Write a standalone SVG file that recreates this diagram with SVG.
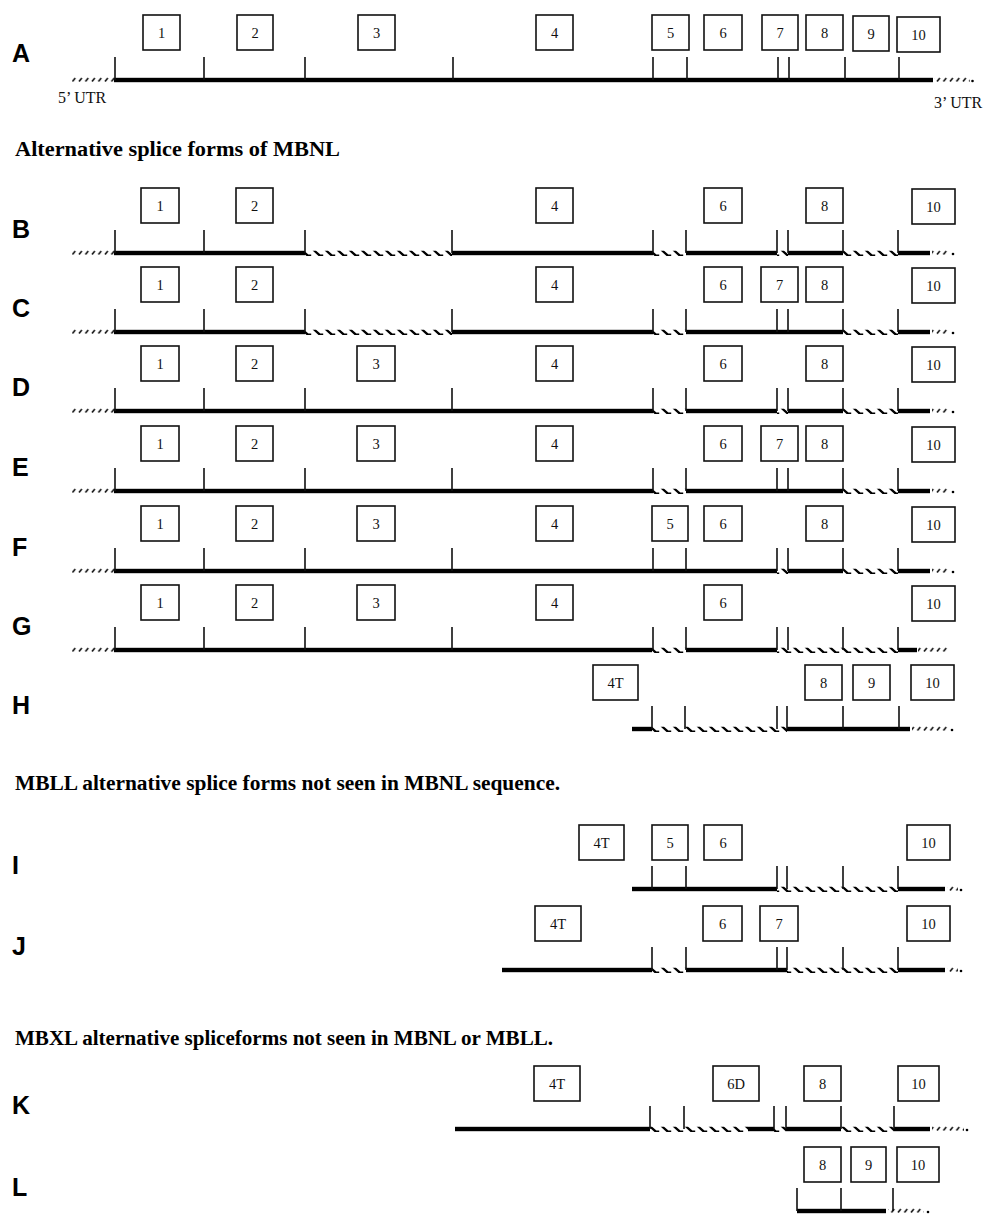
<svg xmlns="http://www.w3.org/2000/svg" width="993" height="1214" viewBox="0 0 993 1214">
<style>
.box{fill:#fff;stroke:#111;stroke-width:1.6}
.num{font-family:"Liberation Serif",serif;font-size:14.5px;text-anchor:middle;fill:#111}
.lbl{font-family:"Liberation Sans",Arial,sans-serif;font-weight:bold;font-size:25px;fill:#000}
.hd{font-family:"Liberation Serif",serif;font-weight:bold;font-size:20px;fill:#000}
.utrt{font-family:"Liberation Serif",serif;font-size:16px;fill:#111}
.tick{stroke:#111;stroke-width:1.6;fill:none}
.s{fill:#000}
.h{fill:url(#hatch)}
.u{fill:url(#utr)}
</style>
<defs>
<pattern id="hatch" patternUnits="userSpaceOnUse" x="0" y="-5" width="12" height="10">
<polygon points="0.5,2.6 3.8,2.6 8.4,6.6 11.2,6.6 11.2,8.2 6.8,8.2" fill="#000"/>
</pattern>
<pattern id="utr" patternUnits="userSpaceOnUse" x="0" y="-5" width="6.5" height="10">
<line x1="1" y1="6.6" x2="3.8" y2="3" stroke="#111" stroke-width="1.6"/>
</pattern>
</defs>

<!-- Row A -->
<g id="row-A" transform="translate(0,80)">
<text class="lbl" x="12" y="-18">A</text>
<g id="A-track">
<rect class="u" x="72" y="-3" width="42" height="5"/>
<rect class="s" x="114" y="-2.2" width="819" height="4.4"/>
<rect class="u" x="934" y="-3" width="36" height="5"/>
<circle cx="972.5" cy="1" r="1.3"/>
<path class="tick" d="M115 -23V0M204 -23V0M305 -23V0M453 -23V0M653 -23V0M687 -23V0M778 -23V0M789 -23V0M845 -23V0M899 -23V0"/>
</g>
<text class="utrt" x="58" y="23">5’ UTR</text>
<text class="utrt" x="934" y="28">3’ UTR</text>
<g id="A-e1"><rect class="box" x="143" y="-65" width="37" height="35"/><text class="num" x="161.5" y="-42">1</text></g>
<g id="A-e2"><rect class="box" x="237" y="-65" width="36" height="35"/><text class="num" x="255" y="-42">2</text></g>
<g id="A-e3"><rect class="box" x="358" y="-65" width="37" height="35"/><text class="num" x="376.5" y="-42">3</text></g>
<g id="A-e4"><rect class="box" x="536" y="-65" width="37" height="35"/><text class="num" x="554.5" y="-42">4</text></g>
<g id="A-e5"><rect class="box" x="652" y="-65" width="37" height="35"/><text class="num" x="670.5" y="-42">5</text></g>
<g id="A-e6"><rect class="box" x="704" y="-65" width="38" height="35"/><text class="num" x="723" y="-42">6</text></g>
<g id="A-e7"><rect class="box" x="762" y="-65" width="36" height="35"/><text class="num" x="780" y="-42">7</text></g>
<g id="A-e8"><rect class="box" x="806" y="-65" width="37" height="35"/><text class="num" x="824.5" y="-42">8</text></g>
<g id="A-e9"><rect class="box" x="853" y="-64" width="36" height="35"/><text class="num" x="871" y="-41">9</text></g>
<g id="A-e10"><rect class="box" x="897" y="-63" width="43" height="35"/><text class="num" x="918.5" y="-40">10</text></g>
</g>

<text class="hd" x="15" y="156" textLength="325" lengthAdjust="spacingAndGlyphs">Alternative splice forms of MBNL</text>

<!-- Row B -->
<g id="row-B" transform="translate(0,253)">
<text class="lbl" x="12" y="-15">B</text>
<g id="B-track">
<rect class="u" x="72" y="-3" width="42" height="5"/>
<rect class="s" x="114" y="-2.2" width="191" height="4.4"/>
<rect class="h" x="305" y="-2.5" width="147" height="5.5"/>
<rect class="s" x="452" y="-2.2" width="201" height="4.4"/>
<rect class="h" x="653" y="-2.5" width="33" height="5.5"/>
<rect class="s" x="686" y="-2.2" width="91" height="4.4"/>
<rect class="h" x="777" y="-2.5" width="11" height="5.5"/>
<rect class="s" x="788" y="-2.2" width="55" height="4.4"/>
<rect class="h" x="843" y="-2.5" width="55" height="5.5"/>
<rect class="s" x="898" y="-2.2" width="32" height="4.4"/>
<rect class="u" x="932" y="-3" width="17" height="5"/>
<circle cx="953" cy="1" r="1.3"/>
<path class="tick" d="M115 -23V0M204 -23V0M305 -23V0M452 -23V0M653 -23V0M686 -23V0M777 -23V0M788 -23V0M843 -23V0M898 -23V0"/>
</g>
<g id="B-e1"><rect class="box" x="141" y="-65" width="38" height="35"/><text class="num" x="160" y="-42">1</text></g>
<g id="B-e2"><rect class="box" x="236" y="-65" width="37" height="35"/><text class="num" x="254.5" y="-42">2</text></g>
<g id="B-e4"><rect class="box" x="536" y="-65" width="37" height="35"/><text class="num" x="554.5" y="-42">4</text></g>
<g id="B-e6"><rect class="box" x="704" y="-65" width="38" height="35"/><text class="num" x="723" y="-42">6</text></g>
<g id="B-e8"><rect class="box" x="806" y="-65" width="37" height="35"/><text class="num" x="824.5" y="-42">8</text></g>
<g id="B-e10"><rect class="box" x="912" y="-64" width="43" height="35"/><text class="num" x="933.5" y="-41">10</text></g>
</g>

<!-- Row C -->
<g id="row-C" transform="translate(0,332)">
<text class="lbl" x="12" y="-15">C</text>
<g id="C-track">
<rect class="u" x="72" y="-3" width="42" height="5"/>
<rect class="s" x="114" y="-2.2" width="191" height="4.4"/>
<rect class="h" x="305" y="-2.5" width="147" height="5.5"/>
<rect class="s" x="452" y="-2.2" width="201" height="4.4"/>
<rect class="h" x="653" y="-2.5" width="33" height="5.5"/>
<rect class="s" x="686" y="-2.2" width="157" height="4.4"/>
<rect class="h" x="843" y="-2.5" width="55" height="5.5"/>
<rect class="s" x="898" y="-2.2" width="32" height="4.4"/>
<rect class="u" x="932" y="-3" width="17" height="5"/>
<circle cx="953" cy="1" r="1.3"/>
<path class="tick" d="M115 -23V0M204 -23V0M305 -23V0M452 -23V0M653 -23V0M686 -23V0M777 -23V0M788 -23V0M843 -23V0M898 -23V0"/>
</g>
<g id="C-e1"><rect class="box" x="141" y="-65" width="38" height="35"/><text class="num" x="160" y="-42">1</text></g>
<g id="C-e2"><rect class="box" x="236" y="-65" width="37" height="35"/><text class="num" x="254.5" y="-42">2</text></g>
<g id="C-e4"><rect class="box" x="536" y="-65" width="37" height="35"/><text class="num" x="554.5" y="-42">4</text></g>
<g id="C-e6"><rect class="box" x="704" y="-65" width="38" height="35"/><text class="num" x="723" y="-42">6</text></g>
<g id="C-e7"><rect class="box" x="761" y="-65" width="37" height="35"/><text class="num" x="779.5" y="-42">7</text></g>
<g id="C-e8"><rect class="box" x="806" y="-65" width="37" height="35"/><text class="num" x="824.5" y="-42">8</text></g>
<g id="C-e10"><rect class="box" x="912" y="-64" width="43" height="35"/><text class="num" x="933.5" y="-41">10</text></g>
</g>

<!-- Row D -->
<g id="row-D" transform="translate(0,411)">
<text class="lbl" x="12" y="-15">D</text>
<g id="D-track">
<rect class="u" x="72" y="-3" width="42" height="5"/>
<rect class="s" x="114" y="-2.2" width="539" height="4.4"/>
<rect class="h" x="653" y="-2.5" width="33" height="5.5"/>
<rect class="s" x="686" y="-2.2" width="91" height="4.4"/>
<rect class="h" x="777" y="-2.5" width="11" height="5.5"/>
<rect class="s" x="788" y="-2.2" width="55" height="4.4"/>
<rect class="h" x="843" y="-2.5" width="55" height="5.5"/>
<rect class="s" x="898" y="-2.2" width="32" height="4.4"/>
<rect class="u" x="932" y="-3" width="17" height="5"/>
<circle cx="953" cy="1" r="1.3"/>
<path class="tick" d="M115 -23V0M204 -23V0M305 -23V0M452 -23V0M653 -23V0M686 -23V0M777 -23V0M788 -23V0M843 -23V0M898 -23V0"/>
</g>
<g id="D-e1"><rect class="box" x="141" y="-65" width="38" height="35"/><text class="num" x="160" y="-42">1</text></g>
<g id="D-e2"><rect class="box" x="236" y="-65" width="37" height="35"/><text class="num" x="254.5" y="-42">2</text></g>
<g id="D-e3"><rect class="box" x="357" y="-65" width="38" height="35"/><text class="num" x="376" y="-42">3</text></g>
<g id="D-e4"><rect class="box" x="536" y="-65" width="37" height="35"/><text class="num" x="554.5" y="-42">4</text></g>
<g id="D-e6"><rect class="box" x="704" y="-65" width="38" height="35"/><text class="num" x="723" y="-42">6</text></g>
<g id="D-e8"><rect class="box" x="806" y="-65" width="37" height="35"/><text class="num" x="824.5" y="-42">8</text></g>
<g id="D-e10"><rect class="box" x="912" y="-64" width="43" height="35"/><text class="num" x="933.5" y="-41">10</text></g>
</g>

<!-- Row E -->
<g id="row-E" transform="translate(0,491)">
<text class="lbl" x="12" y="-15">E</text>
<g id="E-track">
<rect class="u" x="72" y="-3" width="42" height="5"/>
<rect class="s" x="114" y="-2.2" width="539" height="4.4"/>
<rect class="h" x="653" y="-2.5" width="33" height="5.5"/>
<rect class="s" x="686" y="-2.2" width="157" height="4.4"/>
<rect class="h" x="843" y="-2.5" width="55" height="5.5"/>
<rect class="s" x="898" y="-2.2" width="32" height="4.4"/>
<rect class="u" x="932" y="-3" width="17" height="5"/>
<circle cx="953" cy="1" r="1.3"/>
<path class="tick" d="M115 -23V0M204 -23V0M305 -23V0M452 -23V0M653 -23V0M686 -23V0M777 -23V0M788 -23V0M843 -23V0M898 -23V0"/>
</g>
<g id="E-e1"><rect class="box" x="141" y="-65" width="38" height="35"/><text class="num" x="160" y="-42">1</text></g>
<g id="E-e2"><rect class="box" x="236" y="-65" width="37" height="35"/><text class="num" x="254.5" y="-42">2</text></g>
<g id="E-e3"><rect class="box" x="357" y="-65" width="38" height="35"/><text class="num" x="376" y="-42">3</text></g>
<g id="E-e4"><rect class="box" x="536" y="-65" width="37" height="35"/><text class="num" x="554.5" y="-42">4</text></g>
<g id="E-e6"><rect class="box" x="704" y="-65" width="38" height="35"/><text class="num" x="723" y="-42">6</text></g>
<g id="E-e7"><rect class="box" x="761" y="-65" width="37" height="35"/><text class="num" x="779.5" y="-42">7</text></g>
<g id="E-e8"><rect class="box" x="806" y="-65" width="37" height="35"/><text class="num" x="824.5" y="-42">8</text></g>
<g id="E-e10"><rect class="box" x="912" y="-64" width="43" height="35"/><text class="num" x="933.5" y="-41">10</text></g>
</g>

<!-- Row F -->
<g id="row-F" transform="translate(0,571)">
<text class="lbl" x="12" y="-15">F</text>
<g id="F-track">
<rect class="u" x="72" y="-3" width="42" height="5"/>
<rect class="s" x="114" y="-2.2" width="663" height="4.4"/>
<rect class="h" x="777" y="-2.5" width="11" height="5.5"/>
<rect class="s" x="788" y="-2.2" width="55" height="4.4"/>
<rect class="h" x="843" y="-2.5" width="55" height="5.5"/>
<rect class="s" x="898" y="-2.2" width="32" height="4.4"/>
<rect class="u" x="932" y="-3" width="17" height="5"/>
<circle cx="953" cy="1" r="1.3"/>
<path class="tick" d="M115 -23V0M204 -23V0M305 -23V0M452 -23V0M653 -23V0M686 -23V0M777 -23V0M788 -23V0M843 -23V0M898 -23V0"/>
</g>
<g id="F-e1"><rect class="box" x="141" y="-65" width="38" height="35"/><text class="num" x="160" y="-42">1</text></g>
<g id="F-e2"><rect class="box" x="236" y="-65" width="37" height="35"/><text class="num" x="254.5" y="-42">2</text></g>
<g id="F-e3"><rect class="box" x="357" y="-65" width="38" height="35"/><text class="num" x="376" y="-42">3</text></g>
<g id="F-e4"><rect class="box" x="536" y="-65" width="37" height="35"/><text class="num" x="554.5" y="-42">4</text></g>
<g id="F-e5"><rect class="box" x="652" y="-65" width="36" height="35"/><text class="num" x="670" y="-42">5</text></g>
<g id="F-e6"><rect class="box" x="704" y="-65" width="38" height="35"/><text class="num" x="723" y="-42">6</text></g>
<g id="F-e8"><rect class="box" x="806" y="-65" width="37" height="35"/><text class="num" x="824.5" y="-42">8</text></g>
<g id="F-e10"><rect class="box" x="912" y="-64" width="43" height="35"/><text class="num" x="933.5" y="-41">10</text></g>
</g>

<!-- Row G -->
<g id="row-G" transform="translate(0,650)">
<text class="lbl" x="12" y="-15">G</text>
<g id="G-track">
<rect class="u" x="72" y="-3" width="42" height="5"/>
<rect class="s" x="114" y="-2.2" width="538" height="4.4"/>
<rect class="h" x="652" y="-2.5" width="34" height="5.5"/>
<rect class="s" x="686" y="-2.2" width="91" height="4.4"/>
<rect class="h" x="777" y="-2.5" width="121" height="5.5"/>
<rect class="s" x="898" y="-2.2" width="19" height="4.4"/>
<rect class="u" x="918" y="-3" width="30" height="5"/>
<path class="tick" d="M115 -23V0M204 -23V0M305 -23V0M452 -23V0M653 -23V0M686 -23V0M777 -23V0M788 -23V0M843 -23V0M898 -23V0"/>
</g>
<g id="G-e1"><rect class="box" x="141" y="-65" width="38" height="35"/><text class="num" x="160" y="-42">1</text></g>
<g id="G-e2"><rect class="box" x="236" y="-65" width="37" height="35"/><text class="num" x="254.5" y="-42">2</text></g>
<g id="G-e3"><rect class="box" x="357" y="-65" width="38" height="35"/><text class="num" x="376" y="-42">3</text></g>
<g id="G-e4"><rect class="box" x="536" y="-65" width="37" height="35"/><text class="num" x="554.5" y="-42">4</text></g>
<g id="G-e6"><rect class="box" x="704" y="-65" width="38" height="35"/><text class="num" x="723" y="-42">6</text></g>
<g id="G-e10"><rect class="box" x="912" y="-64" width="43" height="35"/><text class="num" x="933.5" y="-41">10</text></g>
</g>

<!-- Row H -->
<g id="row-H" transform="translate(0,729)">
<text class="lbl" x="12" y="-15">H</text>
<g id="H-track">
<rect class="s" x="632" y="-2.2" width="20" height="4.4"/>
<rect class="h" x="652" y="-2.5" width="135" height="5.5"/>
<rect class="s" x="787" y="-2.2" width="123" height="4.4"/>
<rect class="u" x="912" y="-3" width="36" height="5"/>
<circle cx="952" cy="1" r="1.3"/>
<path class="tick" d="M652 -23V0M685 -23V0M777 -23V0M787 -23V0M843 -23V0M899 -23V0"/>
</g>
<g id="H-e4T"><rect class="box" x="593" y="-64" width="45" height="35"/><text class="num" x="615.5" y="-41">4T</text></g>
<g id="H-e8"><rect class="box" x="805" y="-64" width="37" height="35"/><text class="num" x="823.5" y="-41">8</text></g>
<g id="H-e9"><rect class="box" x="853" y="-64" width="37" height="35"/><text class="num" x="871.5" y="-41">9</text></g>
<g id="H-e10"><rect class="box" x="911" y="-64" width="43" height="35"/><text class="num" x="932.5" y="-41">10</text></g>
</g>

<text class="hd" x="15" y="790" textLength="545" lengthAdjust="spacingAndGlyphs">MBLL alternative splice forms not seen in MBNL sequence.</text>

<!-- Row I -->
<g id="row-I" transform="translate(0,889)">
<text class="lbl" x="12" y="-15">I</text>
<g id="I-track">
<rect class="s" x="632" y="-2.2" width="145" height="4.4"/>
<rect class="h" x="777" y="-2.5" width="121" height="5.5"/>
<rect class="s" x="898" y="-2.2" width="47" height="4.4"/>
<rect class="u" x="947" y="-3" width="11" height="5"/>
<circle cx="961" cy="1" r="1.3"/>
<path class="tick" d="M652 -23V0M686 -23V0M777 -23V0M787 -23V0M843 -23V0M898 -23V0"/>
</g>
<g id="I-e4T"><rect class="box" x="579" y="-64" width="45" height="35"/><text class="num" x="601.5" y="-41">4T</text></g>
<g id="I-e5"><rect class="box" x="652" y="-64" width="36" height="35"/><text class="num" x="670" y="-41">5</text></g>
<g id="I-e6"><rect class="box" x="704" y="-64" width="38" height="35"/><text class="num" x="723" y="-41">6</text></g>
<g id="I-e10"><rect class="box" x="907" y="-64" width="43" height="35"/><text class="num" x="928.5" y="-41">10</text></g>
</g>

<!-- Row J -->
<g id="row-J" transform="translate(0,970)">
<text class="lbl" x="12" y="-15">J</text>
<g id="J-track">
<rect class="s" x="502" y="-2.2" width="150" height="4.4"/>
<rect class="h" x="652" y="-2.5" width="34" height="5.5"/>
<rect class="s" x="686" y="-2.2" width="101" height="4.4"/>
<rect class="h" x="787" y="-2.5" width="111" height="5.5"/>
<rect class="s" x="898" y="-2.2" width="47" height="4.4"/>
<rect class="u" x="947" y="-3" width="11" height="5"/>
<circle cx="961" cy="1" r="1.3"/>
<path class="tick" d="M652 -23V0M686 -23V0M777 -23V0M787 -23V0M843 -23V0M898 -23V0"/>
</g>
<g id="J-e4T"><rect class="box" x="535" y="-64" width="46" height="35"/><text class="num" x="558" y="-41">4T</text></g>
<g id="J-e6"><rect class="box" x="703" y="-64" width="39" height="35"/><text class="num" x="722.5" y="-41">6</text></g>
<g id="J-e7"><rect class="box" x="760" y="-64" width="38" height="35"/><text class="num" x="779" y="-41">7</text></g>
<g id="J-e10"><rect class="box" x="907" y="-64" width="43" height="35"/><text class="num" x="928.5" y="-41">10</text></g>
</g>

<text class="hd" x="15" y="1045" textLength="538" lengthAdjust="spacingAndGlyphs">MBXL alternative spliceforms not seen in MBNL or MBLL.</text>

<!-- Row K -->
<g id="row-K" transform="translate(0,1129)">
<text class="lbl" x="12" y="-15">K</text>
<g id="K-track">
<rect class="s" x="455" y="-2.2" width="195" height="4.4"/>
<rect class="h" x="650" y="-2.5" width="98" height="5.5"/>
<rect class="s" x="748" y="-2.2" width="26" height="4.4"/>
<rect class="h" x="774" y="-2.5" width="12" height="5.5"/>
<rect class="s" x="786" y="-2.2" width="55" height="4.4"/>
<rect class="h" x="841" y="-2.5" width="53" height="5.5"/>
<rect class="s" x="894" y="-2.2" width="36" height="4.4"/>
<rect class="u" x="932" y="-3" width="32" height="5"/>
<circle cx="967" cy="1" r="1.3"/>
<path class="tick" d="M650 -23V0M684 -23V0M774 -23V0M786 -23V0M841 -23V0M894 -23V0"/>
</g>
<g id="K-e4T"><rect class="box" x="534" y="-63" width="46" height="35"/><text class="num" x="557" y="-40">4T</text></g>
<g id="K-e6D"><rect class="box" x="713" y="-63" width="46" height="35"/><text class="num" x="736" y="-40">6D</text></g>
<g id="K-e8"><rect class="box" x="804" y="-63" width="37" height="35"/><text class="num" x="822.5" y="-40">8</text></g>
<g id="K-e10"><rect class="box" x="898" y="-63" width="41" height="35"/><text class="num" x="918.5" y="-40">10</text></g>
</g>

<!-- Row L -->
<g id="row-L" transform="translate(0,1211)">
<text class="lbl" x="12" y="-15">L</text>
<g id="L-track">
<rect class="s" x="797" y="-2.2" width="89" height="4.4"/>
<rect class="u" x="888" y="-3" width="36" height="5"/>
<circle cx="928" cy="1" r="1.3"/>
<path class="tick" d="M797 -23V0M841 -23V0M893 -23V0"/>
</g>
<g id="L-e8"><rect class="box" x="804" y="-64" width="37" height="35"/><text class="num" x="822.5" y="-41">8</text></g>
<g id="L-e9"><rect class="box" x="851" y="-64" width="35" height="35"/><text class="num" x="868.5" y="-41">9</text></g>
<g id="L-e10"><rect class="box" x="897" y="-64" width="42" height="35"/><text class="num" x="918" y="-41">10</text></g>
</g>
</svg>
